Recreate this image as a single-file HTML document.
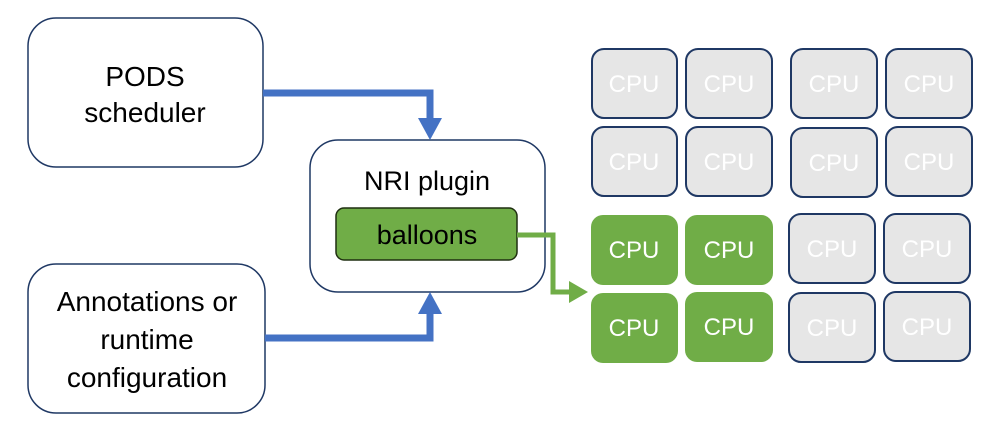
<!DOCTYPE html>
<html><head><style>
body{margin:0;width:998px;height:437px;background:#fff;overflow:hidden}
</style></head><body>
<svg width="998" height="437" xmlns="http://www.w3.org/2000/svg" font-family="'Liberation Sans',sans-serif">
<rect x="28" y="18" width="235" height="149" rx="28" fill="#fff" stroke="#1f3864" stroke-width="1.5"/>
<text x="145" y="86" font-size="28" text-anchor="middle">PODS</text>
<text x="145" y="122" font-size="28" text-anchor="middle">scheduler</text>
<rect x="28" y="264" width="237" height="149" rx="28" fill="#fff" stroke="#1f3864" stroke-width="1.5"/>
<text x="147" y="311" font-size="28" text-anchor="middle">Annotations or</text>
<text x="147" y="349" font-size="28" text-anchor="middle">runtime</text>
<text x="147" y="387" font-size="28" text-anchor="middle">configuration</text>
<rect x="310" y="140" width="235" height="152" rx="28" fill="#fff" stroke="#1f3864" stroke-width="1.5"/>
<text x="427" y="190" font-size="27" text-anchor="middle">NRI plugin</text>
<rect x="336" y="208" width="181" height="52" rx="8" fill="#70ad47" stroke="#1f2f10" stroke-width="1.5"/>
<text x="427" y="244" font-size="27" text-anchor="middle">balloons</text>
<polyline points="263,93 430,93 430,120" fill="none" stroke="#4472c4" stroke-width="7"/>
<polygon points="418,118 442,118 430,140" fill="#4472c4"/>
<polyline points="265,338 430,338 430,312" fill="none" stroke="#4472c4" stroke-width="7"/>
<polygon points="418,314 442,314 430,292" fill="#4472c4"/>
<polyline points="517,235 553,235 553,292 572,292" fill="none" stroke="#70ad47" stroke-width="5"/>
<polygon points="569,281 569,303 588,292" fill="#70ad47"/>
<g font-size="24" text-anchor="middle">
<g fill="#e6e6e6" stroke="#1f3864" stroke-width="2">
<rect x="592" y="49" width="85" height="69" rx="12"/><rect x="686" y="49" width="86" height="69" rx="12"/>
<rect x="791" y="49" width="86" height="69" rx="12"/><rect x="886" y="49" width="86" height="69" rx="12"/>
<rect x="592" y="127" width="85" height="69" rx="12"/><rect x="686" y="127" width="86" height="69" rx="12"/>
<rect x="791" y="128" width="86" height="69" rx="12"/><rect x="886" y="127" width="86" height="69" rx="12"/>
<rect x="789" y="214" width="86" height="69" rx="12"/><rect x="884" y="214" width="86" height="69" rx="12"/>
<rect x="789" y="293" width="86" height="69" rx="12"/><rect x="884" y="292" width="86" height="69" rx="12"/>
</g>
<g fill="#70ad47">
<rect x="591" y="215" width="87" height="70" rx="12"/><rect x="685" y="215" width="88" height="70" rx="12"/>
<rect x="591" y="293" width="87" height="70" rx="12"/><rect x="685" y="292" width="88" height="70" rx="12"/>
</g>
<g fill="#fff">
<text x="634" y="92">CPU</text><text x="729" y="92">CPU</text><text x="834" y="92">CPU</text><text x="929" y="92">CPU</text>
<text x="634" y="170">CPU</text><text x="729" y="170">CPU</text><text x="834" y="171">CPU</text><text x="929" y="170">CPU</text>
<text x="634" y="258">CPU</text><text x="729" y="258">CPU</text><text x="832" y="257">CPU</text><text x="927" y="257">CPU</text>
<text x="634" y="336">CPU</text><text x="729" y="335">CPU</text><text x="832" y="336">CPU</text><text x="927" y="335">CPU</text>
</g></g>
</svg>
</body></html>
